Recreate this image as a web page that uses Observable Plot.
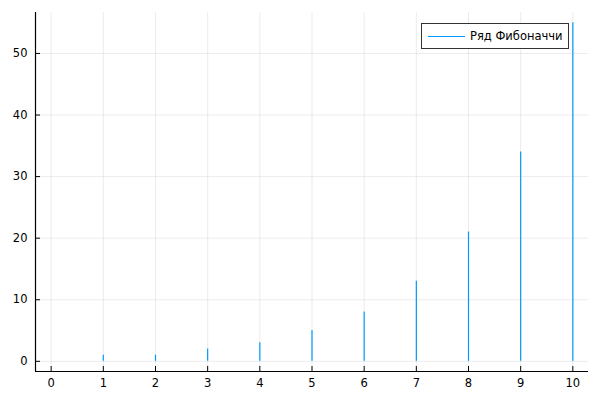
<!DOCTYPE html>
<html>
<head>
<meta charset="utf-8">
<script src="https://cdn.jsdelivr.net/npm/d3@7"></script>
<script src="https://cdn.jsdelivr.net/npm/@observablehq/plot@0.6"></script>
<style>
  body { margin: 0; background: #fff; }
  #wrap { position: relative; width: 600px; height: 400px; font-family: "DejaVu Sans", sans-serif; }
  #legend { position: absolute; left: 421px; top: 23px; width: 146px; height: 24px; border: 1px solid #333; background: #fff; display: flex; align-items: center; font-size: 11.5px; color: #000; }
  #legend .sw { width: 37px; height: 0; border-top: 1px solid #009AFA; margin-left: 6px; margin-right: 5px; }
</style>
</head>
<body>
<div id="wrap"></div>
<script>
const xs = [0, 1, 2, 3, 4, 5, 6, 7, 8, 9, 10];
const fib = [0, 1, 1, 2, 3, 5, 8, 13, 21, 34, 55];
const xTicks = [0, 1, 2, 3, 4, 5, 6, 7, 8, 9, 10];
const yTicks = [0, 10, 20, 30, 40, 50];
const seriesName = "Ряд Фибоначчи";

const data = xs.map((x, i) => ({x, y: fib[i]}));
const pad = 0.03;
const xmin = d3.min(xs), xmax = d3.max(xs);
const ymin = d3.min(fib), ymax = d3.max(fib);
const xr = (xmax - xmin) * pad, yr = (ymax - ymin) * pad;

const chart = Plot.plot({
  width: 600,
  height: 400,
  marginLeft: 35,
  marginRight: 12,
  marginTop: 12,
  marginBottom: 29,
  style: {fontFamily: "DejaVu Sans, sans-serif", fontSize: "11.5px", color: "#000", background: "#fff"},
  x: {domain: [xmin - xr, xmax + xr]},
  y: {domain: [ymin - yr, ymax + yr]},
  marks: [
    Plot.gridX(xTicks, {stroke: "#000", strokeOpacity: 0.08, strokeWidth: 1}),
    Plot.gridY(yTicks, {stroke: "#000", strokeOpacity: 0.08, strokeWidth: 1}),
    Plot.ruleX(data, {x: "x", y1: 0, y2: "y", stroke: "#009AFA", strokeWidth: 1.2}),
    Plot.ruleX([xmin - xr], {stroke: "#000", strokeWidth: 1.2}),
    Plot.ruleY([ymin - yr], {stroke: "#000", strokeWidth: 1.2}),
    Plot.axisX(xTicks, {tickSize: 5, dy: -5, text: null, label: null, stroke: "#000"}),
    Plot.axisY(yTicks, {tickSize: 5, dx: 5, text: null, label: null, stroke: "#000"}),
    Plot.axisX(xTicks, {tickSize: 0, tickPadding: 7, label: null, tickFormat: d3.format("d"), fill: "#000", fontSize: 11.5}),
    Plot.axisY(yTicks, {tickSize: 0, tickPadding: 8, label: null, tickFormat: d3.format("d"), fill: "#000", fontSize: 11.5})
  ]
});
const wrap = document.getElementById("wrap");
wrap.appendChild(chart);
const legend = document.createElement("div");
legend.id = "legend";
legend.innerHTML = '<div class="sw"></div><span></span>';
legend.querySelector("span").textContent = seriesName;
wrap.appendChild(legend);
</script>
</body>
</html>
